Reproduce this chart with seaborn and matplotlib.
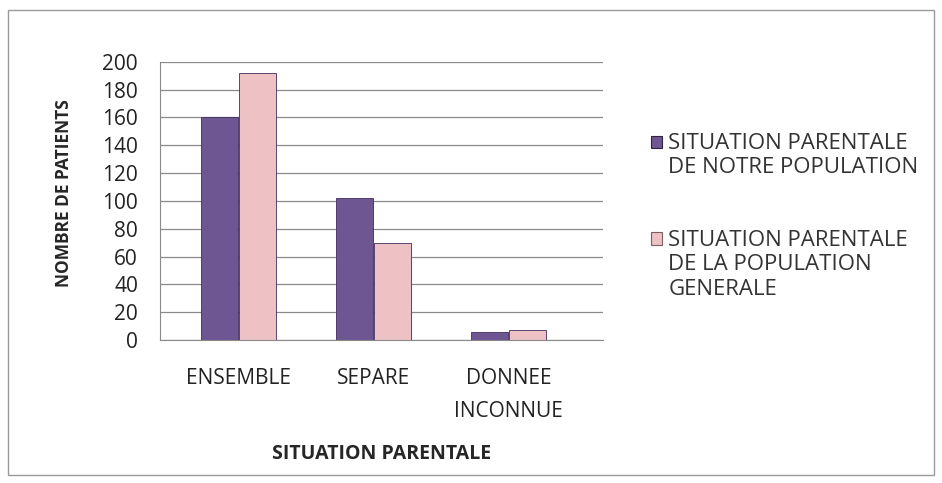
import pandas as pd
import matplotlib.pyplot as plt
import seaborn as sns
from matplotlib.patches import Rectangle
from matplotlib.legend_handler import HandlerPatch

# values
categories = ['ENSEMBLE', 'SEPARE', 'DONNEE\nINCONNUE']
notre_population = [160, 102, 6]
population_generale = [192, 70, 7]
series_names = ['SITUATION PARENTALE\nDE NOTRE POPULATION',
                'SITUATION PARENTALE\nDE LA POPULATION\nGENERALE']

sns.set_style("white")
plt.rcParams['font.family'] = ['Open Sans', 'DejaVu Sans']


class TopHandler(HandlerPatch):
    # put the legend square next to the first text line, like Excel does
    def __init__(self, nlines, **kw):
        super().__init__(**kw)
        self.nlines = nlines

    def create_artists(self, legend, orig_handle, xdescent, ydescent,
                       width, height, fontsize, trans):
        shift = (self.nlines - 1) / 2 * fontsize * 1.2
        p = Rectangle((-xdescent, -ydescent + shift), width, height,
                      facecolor=orig_handle.get_facecolor(),
                      edgecolor=orig_handle.get_edgecolor(), linewidth=0.8,
                      transform=trans)
        return [p]


df = pd.DataFrame({
    'situation': categories * 2,
    'patients': notre_population + population_generale,
    'serie': [series_names[0]] * 3 + [series_names[1]] * 3,
})

fig = plt.figure(figsize=(9.42, 4.83), dpi=100)
ax = fig.add_axes([0.170, 0.296, 0.470, 0.576])

palette = ['#6a4c9c', '#f5babe']
sns.barplot(data=df, x='situation', y='patients', hue='serie', palette=palette,
            width=0.57, gap=0.04, edgecolor='#3f2d5e', linewidth=0.6, ax=ax)

ax.set_ylim(0, 200)
ax.set_xlim(-0.58, 2.7)
ax.set_yticks(range(0, 201, 20))
ax.yaxis.grid(True, color='#8a8a8a', linewidth=0.9)
ax.set_axisbelow(True)
for s in ['top', 'right']:
    ax.spines[s].set_visible(False)
ax.spines['left'].set_color('#8a8a8a')
ax.spines['bottom'].set_color('#8a8a8a')
ax.tick_params(axis='y', labelsize=15, pad=16, length=0, labelcolor='#222222')
ax.tick_params(axis='x', labelsize=15, pad=20, length=0, labelcolor='#222222')
for lab in ax.get_xticklabels():
    lab.set_linespacing(1.75)
ax.set_ylabel('NOMBRE DE PATIENTS', fontsize=12.5, fontweight='bold', labelpad=21)
ax.yaxis.label.set_y(0.53)
ax.set_xlabel('SITUATION PARENTALE', fontsize=14, fontweight='bold', labelpad=16)

handles, labels = ax.get_legend_handles_labels()
handles[0].set_edgecolor('#2e2540')
handles[1].set_edgecolor('#7a6060')
leg = ax.legend(handles, labels, loc='upper left', bbox_to_anchor=(1.108, 0.745),
                frameon=False, fontsize=16, labelspacing=2.35, handlelength=0.5,
                handleheight=0.5, handletextpad=0.3, borderaxespad=0, borderpad=0,
                handler_map={handles[0]: TopHandler(2), handles[1]: TopHandler(3)})
for t in leg.get_texts():
    t.set_color('#333333')

fig.patches.append(Rectangle((0.009, 0.017), 0.983, 0.963, transform=fig.transFigure,
                             fill=False, edgecolor='#9a9a9a', linewidth=1.0))

fig.savefig('out.png', dpi=100)
